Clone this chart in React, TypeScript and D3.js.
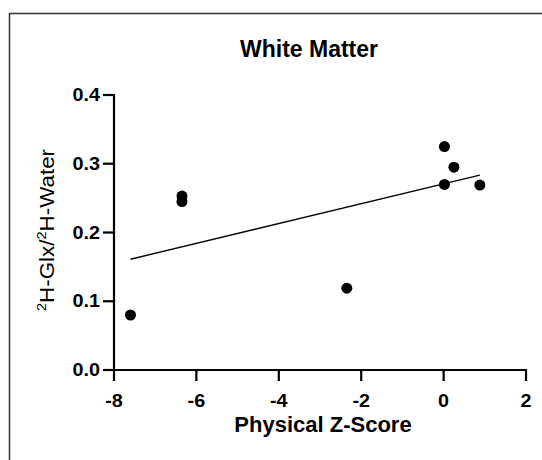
import React from 'react';
import * as d3 from 'd3';

// Physical Z-score vs 2H-Glx/2H-Water, white matter
const zScores = [-7.6, -6.35, -6.35, -2.35, 0.02, 0.25, 0.02, 0.88];
const glxRatio = [0.08, 0.253, 0.245, 0.119, 0.325, 0.295, 0.27, 0.269];
const xTicks = [-8, -6, -4, -2, 0, 2];
const yTicks = [0.0, 0.1, 0.2, 0.3, 0.4];

const W = 542;
const H = 460;
const FONT = '"Liberation Sans", Arial, Helvetica, sans-serif';

export default function App() {
  const x = d3.scaleLinear().domain([-8, 2]).range([114, 526]);
  const y = d3.scaleLinear().domain([0, 0.4]).range([370, 95]);

  // simple least-squares fit
  const mx = d3.mean(zScores) as number;
  const my = d3.mean(glxRatio) as number;
  let sxy = 0;
  let sxx = 0;
  zScores.forEach((v, i) => {
    sxy += (v - mx) * (glxRatio[i] - my);
    sxx += (v - mx) * (v - mx);
  });
  const slope = sxy / sxx;
  const icpt = my - slope * mx;
  const [xMin, xMax] = d3.extent(zScores) as [number, number];
  const fitLine = d3.line<number>()
    .x(d => x(d))
    .y(d => y(icpt + slope * d))([xMin, xMax]);

  const points = zScores.map((v, i) => ({ x: v, y: glxRatio[i] }));

  return (
    <svg width={W} height={H} style={{ position: 'absolute', left: 0, top: 0, background: '#fff' }}
      fontFamily={FONT}>
      <rect x={9.5} y={13.5} width={W + 20} height={H + 20} fill="none" stroke="#333" strokeWidth={1.5} />

      <text x={309} y={57} textAnchor="middle" fontSize={23} fontWeight="bold">
        White Matter
      </text>

      {/* y axis */}
      <line x1={x(-8)} x2={x(-8)} y1={y(0.4) - 1} y2={y(0) + 1} stroke="#000" strokeWidth={2.2} />
      {yTicks.map(t => (
        <g key={t}>
          <line x1={x(-8) - 11} x2={x(-8)} y1={y(t)} y2={y(t)} stroke="#000" strokeWidth={2.2} />
          <text transform={`translate(${x(-8) - 14},${y(t) + 6}) scale(1.1,1)`} textAnchor="end"
            fontSize={18} fontWeight="bold">{d3.format('.1f')(t)}</text>
        </g>
      ))}

      {/* x axis */}
      <line x1={x(-8) - 1} x2={x(2) + 1} y1={y(0)} y2={y(0)} stroke="#000" strokeWidth={2.2} />
      {xTicks.map(t => (
        <g key={t}>
          <line x1={x(t)} x2={x(t)} y1={y(0)} y2={y(0) + 11} stroke="#000" strokeWidth={2.2} />
          <text transform={`translate(${x(t)},407) scale(1.1,1)`} textAnchor="middle"
            fontSize={18} fontWeight="bold">{t}</text>
        </g>
      ))}

      <text x={323} y={432} textAnchor="middle" fontSize={22} fontWeight="bold">
        Physical Z-Score
      </text>

      <text transform="translate(54,230) rotate(-90) scale(1.12,1)" textAnchor="middle" fontSize={20}>
        <tspan fontSize={13} dy={-8}>2</tspan>
        <tspan dy={8}>H-Glx/</tspan>
        <tspan fontSize={13} dy={-8}>2</tspan>
        <tspan dy={8}>H-Water</tspan>
      </text>

      <path d={fitLine ?? ''} fill="none" stroke="#000" strokeWidth={1.4} />

      {points.map((p, i) => (
        <circle key={i} cx={x(p.x)} cy={y(p.y)} r={5.5} fill="#000" />
      ))}
    </svg>
  );
}
